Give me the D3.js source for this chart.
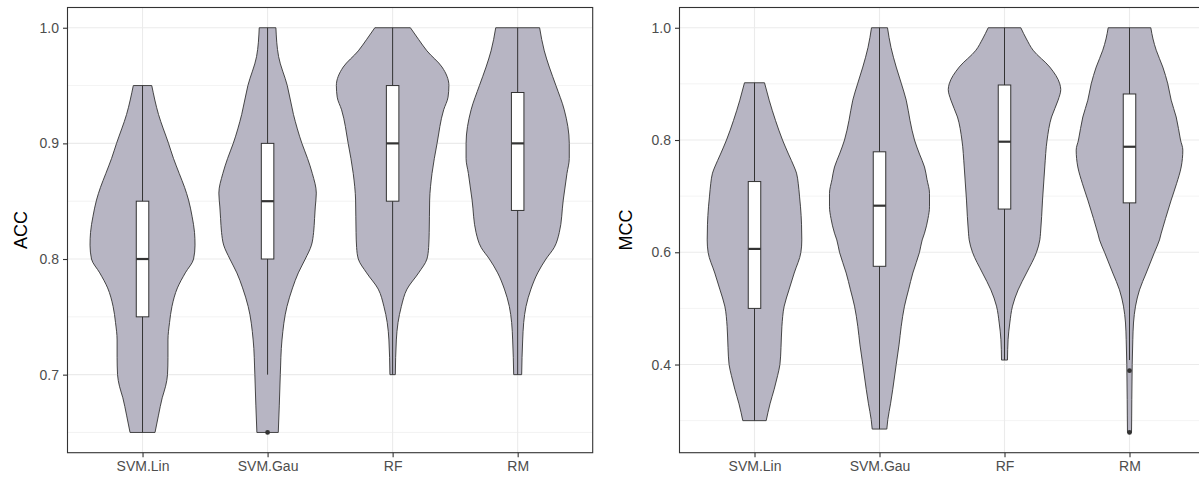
<!DOCTYPE html>
<html>
<head>
<meta charset="utf-8">
<script src="https://cdn.jsdelivr.net/npm/d3@7"></script>
<style>
  html, body { margin: 0; padding: 0; background: #ffffff; }
  svg { display: block; font-family: "Liberation Sans", Arial, Helvetica, sans-serif; }
</style>
</head>
<body>
<svg id="chart" width="1199" height="479"></svg>
<script>
// ---------------- DATA ----------------
const categories = ["SVM.Lin", "SVM.Gau", "RF", "RM"];

// y-axis ticks
const accTicks = [0.7, 0.8, 0.9, 1.0];
const accMinorTicks = [0.65, 0.75, 0.85, 0.95];
const mccTicks = [0.4, 0.6, 0.8, 1.0];
const mccMinorTicks = [0.3, 0.5, 0.7, 0.9];

// violin density profiles: [value, relative density (1 = widest violin)]
const accSvmLin = [[0.65,.222],[0.665,.284],[0.68,.35],[0.69,.41],[0.70,.444],[0.715,.452],[0.73,.452],[0.745,.48],[0.759,.523],[0.775,.62],[0.788,.76],[0.80,.907],[0.812,.933],[0.823,.924],[0.837,.88],[0.851,.818],[0.862,.747],[0.874,.652],[0.887,.55],[0.90,.462],[0.925,.284],[0.95,.164]];
const accSvmGau = [[0.65,.19],[0.673,.208],[0.70,.226],[0.73,.256],[0.759,.345],[0.775,.444],[0.788,.546],[0.80,.67],[0.812,.78],[0.823,.818],[0.835,.835],[0.845,.848],[0.857,.866],[0.874,.795],[0.887,.71],[0.90,.61],[0.925,.46],[0.95,.35],[0.975,.196],[1.0,.148]];
const accRF = [[0.70,.048],[0.73,.066],[0.745,.096],[0.759,.155],[0.774,.256],[0.788,.462],[0.80,.61],[0.81,.64],[0.823,.65],[0.851,.658],[0.874,.70],[0.90,.79],[0.929,.907],[0.94,.985],[0.95,1.0],[0.966,.878],[0.98,.61],[0.99,.46],[1.0,.316]];
const accRM = [[0.70,.071],[0.73,.089],[0.745,.107],[0.759,.148],[0.774,.236],[0.788,.356],[0.80,.503],[0.81,.65],[0.823,.74],[0.851,.81],[0.874,.876],[0.887,.917],[0.90,.917],[0.929,.828],[0.95,.68],[0.966,.562],[0.98,.473],[1.0,.39]];

const mccSvmLin = [[0.30,.208],[0.33,.276],[0.356,.35],[0.38,.41],[0.40,.452],[0.43,.471],[0.468,.487],[0.504,.528],[0.533,.613],[0.563,.706],[0.60,.825],[0.622,.841],[0.65,.836],[0.681,.818],[0.70,.8],[0.723,.777],[0.741,.747],[0.752,.706],[0.775,.604],[0.80,.498],[0.835,.373],[0.871,.261],[0.902,.178]];
const mccSvmGau = [[0.285,.13],[0.302,.148],[0.33,.196],[0.356,.236],[0.40,.297],[0.435,.347],[0.468,.386],[0.504,.444],[0.533,.516],[0.563,.592],[0.60,.711],[0.622,.759],[0.634,.8],[0.66,.862],[0.681,.889],[0.705,.889],[0.73,.844],[0.752,.8],[0.775,.711],[0.80,.622],[0.835,.542],[0.871,.475],[0.90,.39],[0.93,.297],[0.965,.204],[1.0,.142]];
const mccRF = [[0.408,.053],[0.445,.064],[0.474,.094],[0.504,.142],[0.533,.242],[0.563,.391],[0.60,.569],[0.622,.628],[0.634,.64],[0.693,.676],[0.752,.716],[0.80,.757],[0.841,.836],[0.871,.953],[0.89,1.0],[0.90,.983],[0.93,.805],[0.96,.508],[0.98,.39],[1.0,.29]];
const mccRM = [[0.279,.036],[0.31,.039],[0.338,.041],[0.40,.048],[0.445,.059],[0.474,.071],[0.504,.107],[0.533,.178],[0.563,.297],[0.60,.444],[0.622,.533],[0.634,.564],[0.66,.64],[0.693,.741],[0.722,.836],[0.752,.919],[0.782,.948],[0.80,.907],[0.841,.83],[0.871,.741],[0.90,.681],[0.93,.592],[0.96,.475],[0.98,.418],[1.0,.379]];

// box-plot statistics per category: [lowerWhisker, q1, median, q3, upperWhisker]
const accBoxes = [[0.65,0.75,0.80,0.85,0.95],[0.70,0.80,0.85,0.90,1.0],[0.70,0.85,0.90,0.95,1.0],[0.70,0.842,0.90,0.944,1.0]];
const accOutliers = [[], [0.65], [], []];
const mccBoxes = [[0.30,0.50,0.606,0.726,0.902],[0.285,0.575,0.683,0.779,1.0],[0.408,0.677,0.797,0.898,1.0],[0.408,0.688,0.788,0.882,1.0]];
const mccOutliers = [[], [], [], [0.389, 0.279]];

// ---------------- DRAW ----------------
const svg = d3.select("#chart");
const FILL = "#b7b5c3";
const DARK = "#333333";
const FONT = "Liberation Sans, Arial, sans-serif";

function panel(opts) {
  const g = svg.append("g");
  const x = d3.scalePoint().domain(categories).range([opts.left, opts.right]).padding(0.6);
  const y = d3.scaleLinear().domain(opts.domain).range([opts.bottom, opts.top]);
  const step = x.step();

  g.append("rect").attr("x", opts.left).attr("y", opts.top)
    .attr("width", opts.right - opts.left).attr("height", opts.bottom - opts.top)
    .attr("fill", "#ffffff");

  // grid
  g.selectAll(".minor").data(opts.minor).enter().append("line")
    .attr("x1", opts.left).attr("x2", opts.right)
    .attr("y1", d => y(d)).attr("y2", d => y(d))
    .attr("stroke", "#ebebeb").attr("stroke-width", 0.6);
  g.selectAll(".major").data(opts.ticks).enter().append("line")
    .attr("x1", opts.left).attr("x2", opts.right)
    .attr("y1", d => y(d)).attr("y2", d => y(d))
    .attr("stroke", "#ebebeb").attr("stroke-width", 1.1);
  g.selectAll(".vmajor").data(categories).enter().append("line")
    .attr("x1", d => x(d)).attr("x2", d => x(d))
    .attr("y1", opts.top).attr("y2", opts.bottom)
    .attr("stroke", "#ebebeb").attr("stroke-width", 1.1);

  // violins
  const area = d3.area().curve(d3.curveMonotoneY);
  categories.forEach((c, i) => {
    const cx = x(c);
    area.y(d => y(d[0]))
      .x0(d => cx - d[1] * 0.45 * step)
      .x1(d => cx + d[1] * 0.45 * step);
    g.append("path").attr("d", area(opts.violins[i]))
      .attr("fill", FILL).attr("stroke", DARK).attr("stroke-width", 0.9)
      .attr("stroke-linejoin", "round");
  });

  // boxes
  const bw = 0.1 * step;
  categories.forEach((c, i) => {
    const cx = x(c);
    const b = opts.boxes[i];
    g.append("line").attr("x1", cx).attr("x2", cx)
      .attr("y1", y(b[0])).attr("y2", y(b[4]))
      .attr("stroke", DARK).attr("stroke-width", 1);
    g.append("rect").attr("x", cx - bw / 2).attr("width", bw)
      .attr("y", y(b[3])).attr("height", y(b[1]) - y(b[3]))
      .attr("fill", "#ffffff").attr("stroke", DARK).attr("stroke-width", 1);
    g.append("line").attr("x1", cx - bw / 2).attr("x2", cx + bw / 2)
      .attr("y1", y(b[2])).attr("y2", y(b[2]))
      .attr("stroke", DARK).attr("stroke-width", 2.2);
    opts.outliers[i].forEach(o => {
      g.append("circle").attr("cx", cx).attr("cy", y(o)).attr("r", 2.4)
        .attr("fill", DARK);
    });
  });

  // panel border
  g.append("rect").attr("x", opts.left).attr("y", opts.top)
    .attr("width", opts.right - opts.left).attr("height", opts.bottom - opts.top)
    .attr("fill", "none").attr("stroke", DARK).attr("stroke-width", 1.1);

  // y axis
  const yAxis = d3.axisLeft(y).tickValues(opts.ticks).tickFormat(d3.format(".1f")).tickSize(4.5).tickPadding(4);
  const ya = g.append("g").attr("transform", `translate(${opts.left},0)`).call(yAxis);
  ya.attr("font-size", null).attr("font-family", null);
  ya.select(".domain").remove();
  ya.selectAll(".tick line").attr("stroke", DARK).attr("stroke-width", 1.1);
  ya.selectAll(".tick text").attr("fill", "#4d4d4d").style("font-size", "14px")
    .style("font-family", FONT);

  // x axis
  const xAxis = d3.axisBottom(x).tickSize(4.5).tickPadding(4);
  const xa = g.append("g").attr("transform", `translate(0,${opts.bottom})`).call(xAxis);
  xa.attr("font-size", null).attr("font-family", null);
  xa.select(".domain").remove();
  xa.selectAll(".tick line").attr("stroke", DARK).attr("stroke-width", 1.1);
  xa.selectAll(".tick text").attr("fill", "#4d4d4d").style("font-size", "14px")
    .style("font-family", FONT);

  // y title
  g.append("text")
    .attr("transform", `translate(${opts.titleX},${(opts.top + opts.bottom) / 2}) rotate(-90)`)
    .attr("text-anchor", "middle").attr("dominant-baseline", "central")
    .style("font-size", "18px").style("font-family", FONT).attr("fill", "#000000")
    .text(opts.title);
}

panel({
  left: 67.5, right: 592.7, top: 7.5, bottom: 452.7,
  domain: [0.6325, 1.0175], ticks: accTicks, minor: accMinorTicks,
  violins: [accSvmLin, accSvmGau, accRF, accRM],
  boxes: accBoxes, outliers: accOutliers,
  title: "ACC", titleX: 20.5
});

panel({
  left: 679.5, right: 1204.5, top: 7.5, bottom: 452.7,
  domain: [0.2429, 1.0361], ticks: mccTicks, minor: mccMinorTicks,
  violins: [mccSvmLin, mccSvmGau, mccRF, mccRM],
  boxes: mccBoxes, outliers: mccOutliers,
  title: "MCC", titleX: 626
});
</script>
</body>
</html>
